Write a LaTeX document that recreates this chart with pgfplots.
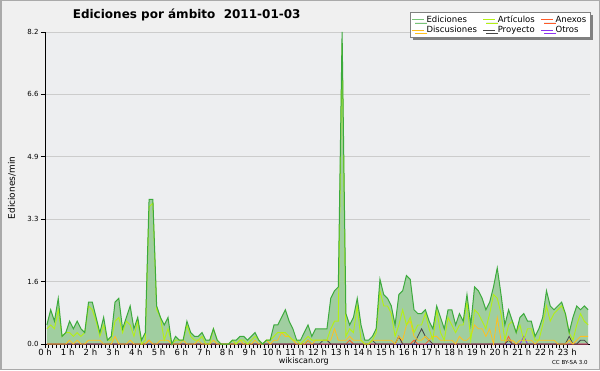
\documentclass[border=0pt]{standalone}
\usepackage{fontspec}
\setmainfont{DejaVu Sans}
\usepackage{pgfplots}
\pgfplotsset{compat=1.18}
\usepackage{pgfplotstable}
\usetikzlibrary{shadows}
\definecolor{bgout}{RGB}{240,240,240}
\definecolor{bgin}{RGB}{237,238,240}
\definecolor{framec}{RGB}{170,170,170}
\definecolor{gridc}{RGB}{204,204,204}
\definecolor{edline}{RGB}{60,170,60}
\definecolor{edfill}{RGB}{160,206,160}
\definecolor{artc}{RGB}{180,240,20}
\definecolor{discc}{RGB}{255,192,30}
\definecolor{projc}{RGB}{70,70,70}
\definecolor{anexc}{RGB}{255,90,40}
\definecolor{otrc}{RGB}{140,50,240}
\pgfplotstableread{
i ed art disc proj anex otr
0 0.5 0.4 0 0 0 0
1 0.9 0.5 0 0 0 0
2 0.6 0.4 0 0 0 0
3 1.2 0.9 0 0 0 0
4 0.2 0.2 0 0 0 0
5 0.3 0.3 0 0 0 0
6 0.6 0.3 0.1 0 0 0
7 0.4 0.2 0 0 0 0
8 0.6 0.3 0.1 0 0 0
9 0.4 0.2 0 0 0 0
10 0.3 0.3 0 0 0 0
11 1.1 1.0 0.1 0 0 0
12 1.1 0.9 0.1 0 0 0
13 0.7 0.6 0.1 0 0 0
14 0.3 0.2 0.1 0 0 0
15 0.7 0.5 0 0 0 0
16 0.1 0.1 0 0 0 0
17 0.2 0.1 0 0 0 0
18 1.1 0.6 0.2 0 0 0
19 1.2 0.7 0 0 0 0
20 0.4 0.3 0 0 0 0
21 0.7 0.6 0 0 0 0
22 1.0 0.5 0.1 0 0 0
23 0.4 0.2 0 0 0 0
24 0.7 0.6 0 0 0 0
25 0.1 0.0 0 0 0 0
26 0.3 0.1 0 0 0 0
27 3.8 3.6 0.1 0 0.1 0
28 3.8 3.7 0 0 0 0
29 1.0 0.9 0 0 0 0
30 0.7 0.7 0.1 0 0 0
31 0.5 0.1 0.1 0 0 0
32 0.7 0.4 0.1 0 0 0
33 0.0 0.0 0 0 0 0
34 0.2 0.1 0 0 0 0
35 0.1 0.1 0 0 0 0
36 0.1 0.1 0.1 0 0 0
37 0.6 0.5 0 0 0 0
38 0.3 0.2 0 0 0 0
39 0.2 0.1 0 0 0 0
40 0.2 0.1 0.1 0 0 0
41 0.3 0.2 0 0 0 0
42 0.1 0.0 0 0 0 0
43 0.1 0.0 0 0 0 0
44 0.4 0.4 0.1 0 0 0
45 0.1 0.1 0 0 0 0
46 0.0 0.0 0 0 0 0
47 0.0 0.0 0 0 0 0
48 0.0 0.0 0 0 0 0
49 0.1 0.1 0 0 0 0
50 0.1 0.0 0 0 0 0
51 0.2 0.1 0.1 0 0 0
52 0.2 0.1 0 0 0 0
53 0.1 0.0 0 0 0 0
54 0.2 0.1 0 0 0 0
55 0.3 0.2 0.1 0 0 0
56 0.1 0.1 0 0 0 0
57 0.0 0.0 0 0 0 0
58 0.1 0.1 0.1 0 0 0
59 0.1 0.1 0 0 0 0
60 0.5 0.2 0.1 0 0 0
61 0.5 0.3 0.1 0 0 0
62 0.7 0.3 0.3 0 0 0
63 0.9 0.3 0.2 0 0 0
64 0.6 0.2 0.2 0 0 0
65 0.4 0.1 0.1 0 0 0
66 0.1 0.1 0 0 0 0
67 0.1 0.0 0 0 0 0
68 0.3 0.1 0 0 0 0
69 0.5 0.2 0.1 0.1 0 0
70 0.2 0.1 0 0 0 0
71 0.4 0.1 0.1 0 0 0
72 0.4 0.1 0.1 0 0 0
73 0.4 0.1 0.1 0.1 0 0
74 0.4 0.1 0.1 0.1 0 0
75 1.2 0.4 0.1 0 0 0
76 1.4 0.6 0.4 0 0 0
77 1.5 0.6 0.1 0 0 0
78 8.2 7.9 0.1 0 0 0
79 0.8 0.2 0.1 0 0 0
80 0.5 0.4 0.2 0 0.1 0
81 0.7 0.3 0.1 0 0 0
82 1.2 1.0 0.1 0 0 0
83 0.5 0.1 0.1 0 0 0
84 0.1 0.0 0 0 0 0
85 0.1 0.0 0 0 0 0
86 0.2 0.1 0.1 0.1 0 0
87 0.4 0.3 0.1 0 0 0
88 1.7 1.4 0.1 0 0 0
89 1.3 1.0 0.1 0 0 0
90 1.2 1.0 0.1 0 0 0
91 1.0 0.8 0.1 0 0 0
92 0.5 0.2 0 0 0 0
93 1.3 0.5 0.2 0.2 0.2 0
94 1.4 0.9 0.1 0 0 0
95 1.8 0.5 0.5 0 0 0
96 1.7 0.7 0.6 0 0 0
97 0.9 0.3 0.2 0 0.1 0
98 0.8 0.5 0.1 0.2 0 0
99 0.8 0.5 0.1 0.4 0 0
100 0.9 0.8 0.2 0.2 0 0
101 0.6 0.4 0.1 0.1 0.1 0
102 0.4 0.1 0.2 0 0 0
103 1.0 0.9 0.2 0 0 0
104 0.7 0.3 0.1 0 0 0
105 0.4 0.1 0.1 0 0 0
106 0.9 0.7 0.1 0 0 0
107 0.9 0.5 0.1 0 0 0
108 0.5 0.3 0 0 0 0
109 0.8 0.5 0.2 0 0 0
110 0.6 0.5 0.1 0 0 0
111 1.3 1.1 0.1 0 0 0
112 0.5 0.1 0.2 0 0 0
113 1.5 0.9 0.5 0 0 0
114 1.4 0.8 0.4 0 0 0
115 1.2 0.6 0.4 0 0 0
116 0.9 0.4 0.2 0 0 0
117 1.1 0.8 0.4 0 0 0
118 1.5 1.3 0 0 0 0
119 2.0 1.2 0.7 0 0 0
120 1.3 0.8 0.1 0 0 0
121 0.5 0.1 0.1 0 0 0
122 0.9 0.5 0.1 0.1 0.2 0
123 0.6 0.6 0.1 0 0 0
124 0.3 0.3 0 0 0 0
125 0.7 0.5 0.1 0 0 0
126 0.8 0.1 0.1 0 0 0.2
127 0.6 0.4 0.1 0 0 0
128 0.6 0.4 0.1 0 0 0
129 0.2 0.1 0 0 0 0
130 0.4 0.1 0.1 0 0 0
131 0.7 0.5 0.1 0 0 0
132 1.4 1.0 0.1 0 0 0
133 1.0 0.6 0.1 0 0 0
134 0.9 0.8 0.1 0 0 0
135 1.0 0.9 0 0 0 0
136 1.1 1.0 0 0 0 0
137 0.8 0.8 0 0 0 0
138 0.3 0.3 0.1 0.2 0 0
139 0.7 0.1 0 0 0 0
140 1.0 0.5 0.1 0 0 0
141 0.9 0.8 0.2 0.1 0 0
142 1.0 0.6 0.2 0.1 0 0
143 0.9 0.5 0.2 0 0 0
}\data
\begin{document}
\begin{tikzpicture}[x=1pt,y=1pt]
\fill[bgout] (0,0) rectangle (600,370);
\draw[framec, line width=1.5pt] (0.75,0.75) rectangle (599.25,369.25);
\begin{axis}[
  at={(45pt,26pt)}, anchor=south west,
  scale only axis, width=545pt, height=312pt,
  xmin=0, xmax=24, ymin=0, ymax=8.2,
  axis x line*=bottom, axis y line*=left,
  axis line style={black, line width=0.9pt, -},
  axis background/.style={fill=bgin},
  xtick={0,...,23},
  xticklabels={0 h,1 h,2 h,3 h,4 h,5 h,6 h,7 h,8 h,9 h,10 h,11 h,12 h,13 h,14 h,15 h,16 h,17 h,18 h,19 h,20 h,21 h,22 h,23 h},
  minor x tick num=5,
  tick align=outside,
  major tick length=4pt, minor tick length=4pt,
  every tick/.style={black, line width=0.8pt},
  ytick={0,1.64,3.28,4.92,6.56,8.2},
  yticklabels={0.0,1.6,3.3,4.9,6.6,8.2},
  ymajorgrids, major grid style={gridc, line width=0.8pt},
  /pgf/number format/assume math mode=true,
  xticklabel style={font=\fontsize{8.5}{9}\selectfont, yshift=2pt},
  yticklabel style={font=\fontsize{7}{8}\selectfont, xshift=1pt},
  ylabel={Ediciones/min},
  ylabel style={at={(axis description cs:-0.061,0.5)}, anchor=center, font=\fontsize{9}{10}\selectfont},
  title={\textbf{Ediciones por ámbito\ \ 2011-01-03}},
  title style={at={(axis description cs:0.26,1.036)}, anchor=center, font=\fontsize{12}{14}\selectfont},
  legend columns=3,
  legend cell align=left,
  legend image code/.code={\draw[#1, line width=0.8pt] (0pt,0pt) -- (12pt,0pt);},
  legend style={at={(1.0,1.064)}, anchor=north east, draw=gray, fill=white,
    font=\fontsize{8.5}{9}\selectfont, inner sep=1.5pt, row sep=-2pt,
    /tikz/every even column/.append style={column sep=4pt},
    drop shadow={shadow xshift=3pt, shadow yshift=-3pt, fill=black!50, opacity=1}},
  clip=false,
]
\addlegendimage{edline!70}
\addlegendentry{Ediciones}
\addlegendimage{artc}
\addlegendentry{Artículos}
\addlegendimage{anexc}
\addlegendentry{Anexos}
\addlegendimage{discc}
\addlegendentry{Discusiones}
\addlegendimage{projc}
\addlegendentry{Proyecto}
\addlegendimage{otrc}
\addlegendentry{Otros}
\addplot[draw=none, fill=edfill, forget plot] table[x expr=(\thisrow{i}+0.5)/6, y=ed] {\data} \closedcycle;
\addplot[otrc, line width=0.8pt, forget plot] table[x expr=(\thisrow{i}+0.5)/6, y=otr] {\data};
\addplot[anexc, line width=0.8pt, forget plot] table[x expr=(\thisrow{i}+0.5)/6, y=anex] {\data};
\addplot[projc, line width=0.8pt, forget plot] table[x expr=(\thisrow{i}+0.5)/6, y=proj] {\data};
\addplot[discc, line width=0.8pt, forget plot] table[x expr=(\thisrow{i}+0.5)/6, y=disc] {\data};
\addplot[artc, line width=0.9pt, forget plot] table[x expr=(\thisrow{i}+0.5)/6, y=art] {\data};
\addplot[edline, line width=1pt, forget plot] table[x expr=(\thisrow{i}+0.5)/6, y=ed] {\data};
\node[font=\fontsize{8}{9}\selectfont] at (rel axis cs:0.475,0) [yshift=-17pt] {wikiscan.org};
\node[font=\fontsize{5.5}{6}\selectfont] at (rel axis cs:0.963,0) [yshift=-18pt] {CC BY-SA 3.0};
\end{axis}
\end{tikzpicture}
\end{document}
